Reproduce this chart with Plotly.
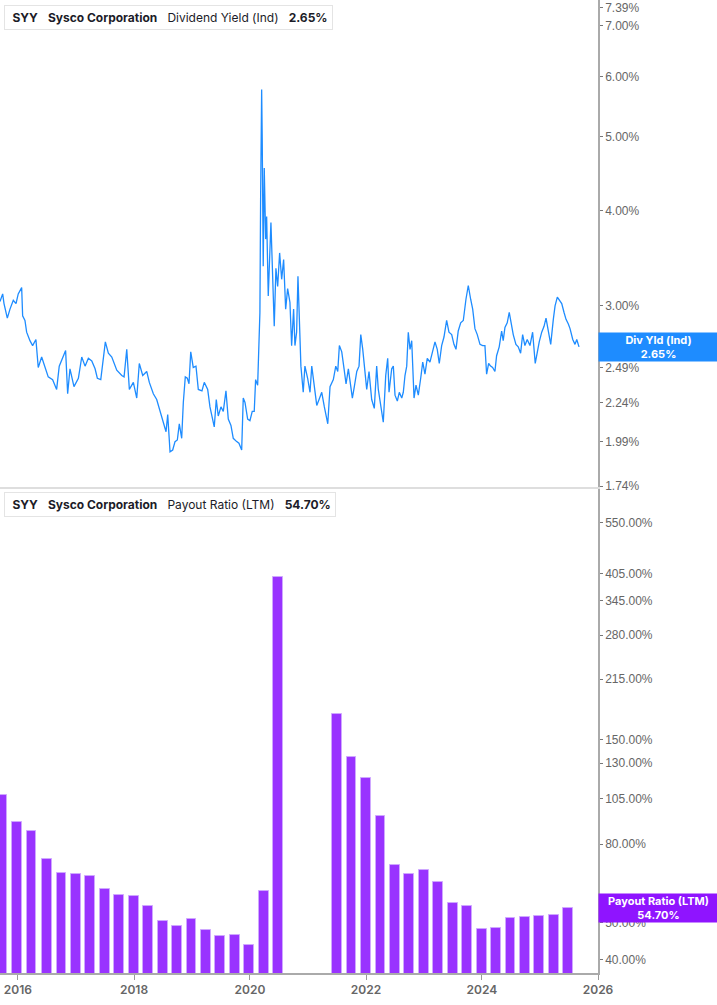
'''
Sysco (SYY) dividend yield and LTM payout ratio, two stacked log panels.
'''

import numpy as np
import pandas as pd
import plotly.graph_objects as go

# Dividend yield (Ind). Dates as decimal years.
yield_years = [
    2015.690, 2015.736, 2015.759, 2015.816, 2015.862, 2015.919, 2015.966, 2016.005,
    2016.064, 2016.081, 2016.121, 2016.150, 2016.207, 2016.253, 2016.310, 2016.350,
    2016.409, 2016.466, 2016.522, 2016.598, 2016.667, 2016.712, 2016.781, 2016.822,
    2016.857, 2016.897, 2016.966, 2017.040, 2017.098, 2017.155, 2017.212, 2017.271,
    2017.328, 2017.367, 2017.426, 2017.471, 2017.505, 2017.557, 2017.616, 2017.702,
    2017.788, 2017.828, 2017.874, 2017.919, 2017.988, 2018.047, 2018.091, 2018.150,
    2018.219, 2018.264, 2018.333, 2018.391, 2018.436, 2018.505, 2018.552, 2018.581,
    2018.621, 2018.667, 2018.707, 2018.747, 2018.781, 2018.822, 2018.850, 2018.884,
    2018.919, 2018.948, 2018.978, 2019.022, 2019.069, 2019.109, 2019.172, 2019.212,
    2019.271, 2019.310, 2019.350, 2019.384, 2019.419, 2019.453, 2019.500, 2019.540,
    2019.586, 2019.626, 2019.672, 2019.712, 2019.771, 2019.810, 2019.857, 2019.884,
    2019.914, 2019.960, 2020.000, 2020.040, 2020.074, 2020.098, 2020.133, 2020.155,
    2020.172, 2020.184, 2020.202, 2020.212, 2020.229, 2020.247, 2020.271, 2020.288,
    2020.316, 2020.362, 2020.391, 2020.419, 2020.448, 2020.478, 2020.512, 2020.547,
    2020.581, 2020.616, 2020.650, 2020.690, 2020.719, 2020.753, 2020.776, 2020.805,
    2020.828, 2020.850, 2020.879, 2020.919, 2020.948, 2020.995, 2021.034, 2021.064,
    2021.109, 2021.150, 2021.190, 2021.236, 2021.281, 2021.340, 2021.379, 2021.436,
    2021.478, 2021.512, 2021.540, 2021.581, 2021.621, 2021.655, 2021.695, 2021.736,
    2021.764, 2021.798, 2021.840, 2021.879, 2021.909, 2021.943, 2021.983, 2022.012,
    2022.052, 2022.098, 2022.143, 2022.184, 2022.212, 2022.253, 2022.298, 2022.340,
    2022.374, 2022.397, 2022.443, 2022.471, 2022.500, 2022.540, 2022.574, 2022.616,
    2022.643, 2022.672, 2022.702, 2022.729, 2022.759, 2022.788, 2022.828, 2022.862,
    2022.902, 2022.943, 2022.978, 2023.017, 2023.057, 2023.103, 2023.150, 2023.190,
    2023.229, 2023.264, 2023.305, 2023.345, 2023.391, 2023.431, 2023.478, 2023.517,
    2023.552, 2023.591, 2023.633, 2023.678, 2023.724, 2023.764, 2023.805, 2023.840,
    2023.879, 2023.919, 2023.966, 2024.012, 2024.052, 2024.081, 2024.116, 2024.150,
    2024.184, 2024.224, 2024.253, 2024.298, 2024.340, 2024.367, 2024.397, 2024.436,
    2024.471, 2024.512, 2024.540, 2024.586, 2024.626, 2024.667, 2024.702, 2024.741,
    2024.781, 2024.828, 2024.874, 2024.919, 2024.953, 2024.988, 2025.029, 2025.069,
    2025.103, 2025.143, 2025.184, 2025.229, 2025.259, 2025.298, 2025.333, 2025.374,
    2025.414, 2025.448, 2025.488, 2025.517, 2025.564, 2025.603, 2025.633, 2025.672,
]
yield_pct = [
    3.04, 3.11, 3.02, 2.89, 2.97, 3.05, 3.02, 3.11,
    3.17, 2.91, 2.87, 2.77, 2.70, 2.66, 2.71, 2.49,
    2.57, 2.50, 2.42, 2.40, 2.33, 2.50, 2.58, 2.62,
    2.30, 2.48, 2.35, 2.41, 2.57, 2.50, 2.56, 2.54,
    2.48, 2.41, 2.40, 2.56, 2.69, 2.60, 2.57, 2.47,
    2.43, 2.42, 2.63, 2.33, 2.38, 2.27, 2.52, 2.43,
    2.46, 2.38, 2.30, 2.26, 2.20, 2.11, 2.05, 2.16,
    1.93, 1.94, 1.99, 2.00, 2.10, 2.01, 2.24, 2.42,
    2.41, 2.37, 2.61, 2.49, 2.50, 2.33, 2.32, 2.38,
    2.33, 2.21, 2.14, 2.08, 2.26, 2.15, 2.21, 2.18,
    2.32, 2.13, 2.09, 2.01, 1.99, 1.98, 1.94, 2.27,
    2.24, 2.13, 2.12, 2.18, 2.18, 2.40, 2.36, 2.69,
    2.94, 4.14, 5.77, 4.96, 3.38, 4.55, 3.67, 3.93,
    3.09, 3.86, 3.38, 2.82, 3.36, 3.18, 3.52, 3.25,
    3.45, 2.97, 3.16, 3.03, 2.66, 2.97, 2.66, 2.77,
    3.28, 2.94, 2.50, 2.31, 2.50, 2.41, 2.31, 2.50,
    2.36, 2.22, 2.26, 2.31, 2.21, 2.10, 2.35, 2.40,
    2.50, 2.46, 2.66, 2.61, 2.48, 2.37, 2.48, 2.33,
    2.27, 2.35, 2.46, 2.50, 2.75, 2.63, 2.43, 2.33,
    2.46, 2.26, 2.20, 2.50, 2.33, 2.23, 2.11, 2.43,
    2.56, 2.31, 2.48, 2.50, 2.29, 2.25, 2.31, 2.27,
    2.31, 2.43, 2.50, 2.77, 2.63, 2.70, 2.27, 2.36,
    2.29, 2.41, 2.53, 2.44, 2.56, 2.53, 2.61, 2.69,
    2.63, 2.52, 2.66, 2.73, 2.87, 2.77, 2.75, 2.67,
    2.63, 2.78, 2.85, 2.87, 3.06, 3.19, 3.06, 2.97,
    2.80, 2.75, 2.67, 2.66, 2.66, 2.44, 2.52, 2.50,
    2.49, 2.46, 2.58, 2.65, 2.78, 2.70, 2.81, 2.85,
    2.94, 2.81, 2.75, 2.67, 2.65, 2.60, 2.75, 2.66,
    2.71, 2.66, 2.77, 2.52, 2.61, 2.69, 2.77, 2.82,
    2.89, 2.78, 2.67, 2.88, 3.00, 3.08, 3.05, 3.02,
    2.94, 2.88, 2.84, 2.80, 2.71, 2.67, 2.71, 2.65,
]

# Payout ratio (LTM), fiscal quarter ends
payout_dates = [
    '2015-09-26', '2015-12-26', '2016-03-26', '2016-07-02', '2016-10-01',
    '2016-12-31', '2017-04-01', '2017-07-01', '2017-09-30', '2017-12-30',
    '2018-03-31', '2018-06-30', '2018-09-29', '2018-12-29', '2019-03-30',
    '2019-06-29', '2019-09-28', '2019-12-28', '2020-03-28', '2020-06-27',
    '2021-07-03', '2021-10-02', '2022-01-01', '2022-04-02', '2022-07-02',
    '2022-10-01', '2022-12-31', '2023-04-01', '2023-07-01', '2023-09-30',
    '2023-12-30', '2024-03-30', '2024-06-29', '2024-09-28', '2024-12-28',
    '2025-03-29', '2025-06-28',
]
payout_pct = [
    107.5, 91.5, 86.8, 73.4, 67.2,
    67.1, 66.0, 61.1, 58.9, 58.6,
    55.3, 50.4, 49.0, 51.0, 48.0,
    46.3, 46.5, 43.8, 60.4, 397.0,
    174.3, 135.0, 119.2, 94.6, 70.6,
    67.0, 68.6, 63.7, 56.2, 55.2,
    48.1, 48.4, 51.4, 51.8, 52.0,
    52.4, 54.7,
]

yield_ticks = [1.74, 1.99, 2.24, 2.49, 3.00, 4.00, 5.00, 6.00, 7.00, 7.39]
payout_ticks = [40, 50, 55, 80, 105, 130, 150, 215, 280, 345, 405, 550]

last_yield = 2.65
last_payout = 54.70

BLUE = '#1e8cff'
PURPLE = '#9933ff'
PURPLE_LABEL = '#8f14ff'


def to_date(yf):
    y = int(yf)
    return pd.Timestamp(year=y, month=1, day=1) + pd.Timedelta(days=(yf - y) * 365.25)


def main():
    x_yield = [to_date(v) for v in yield_years]

    fig = go.Figure()
    fig.add_trace(go.Scatter(x=x_yield, y=yield_pct, mode='lines',
                             line=dict(color=BLUE, width=1.3),
                             xaxis='x2', yaxis='y2', showlegend=False))
    fig.add_trace(go.Bar(x=pd.to_datetime(payout_dates), y=payout_pct,
                         width=62 * 86400000,
                         marker=dict(color=PURPLE, line=dict(color='#cfa8ff', width=1)),
                         xaxis='x', yaxis='y', showlegend=False))

    tick_font = dict(family='Liberation Sans, Arial', size=12, color='#666')
    xrange = ['2015-09-10', '2026-01-01']

    fig.update_layout(
        width=717, height=1005,
        margin=dict(l=0, r=119, t=0, b=32),
        paper_bgcolor='white', plot_bgcolor='white',
        bargap=0,
        xaxis=dict(domain=[0, 1], anchor='y', type='date', range=xrange,
                   tickvals=[f'{y}-01-01' for y in range(2016, 2027, 2)],
                   ticktext=[str(y) for y in range(2016, 2027, 2)],
                   showgrid=False, zeroline=False,
                   showline=True, linecolor='#aaa', linewidth=2,
                   ticks='outside', ticklen=5, tickcolor='#999',
                   tickfont=dict(family='Inter', size=12, color='#666', weight=600)),
        yaxis=dict(domain=[0, 0.4974], anchor='x', type='log', side='right',
                   range=[np.log10(37.0), np.log10(672)],
                   tickvals=payout_ticks,
                   ticktext=[f'{v:.2f}%' for v in payout_ticks],
                   showgrid=False, zeroline=False,
                   showline=True, linecolor='#aaa', linewidth=1.5,
                   ticks='outside', ticklen=3, tickcolor='#777',
                   tickfont=tick_font),
        xaxis2=dict(domain=[0, 1], anchor='y2', type='date', range=xrange,
                    matches='x', showticklabels=False, showgrid=False,
                    zeroline=False, showline=True, linecolor='#dedede', linewidth=2,
                    ticks=''),
        yaxis2=dict(domain=[0.4995, 1], anchor='x2', type='log', side='right',
                    range=[np.log10(1.735), np.log10(7.56)],
                    tickvals=yield_ticks,
                    ticktext=[f'{v:.2f}%' for v in yield_ticks],
                    showgrid=False, zeroline=False,
                    showline=True, linecolor='#aaa', linewidth=1.5,
                    ticks='outside', ticklen=3, tickcolor='#777',
                    tickfont=tick_font),
    )

    sp = '\u00a0\u00a0\u00a0'
    title_font = dict(family='Inter', size=12, color='#1c1c28')
    plot_h = 973.0
    plot_w = 598.0
    boxes = [
        (5, BLUE, f'\u00a0<b>SYY</b>{sp}<b>Sysco Corporation</b>{sp}Dividend Yield (Ind){sp}<b>{last_yield:.2f}%</b>'),
        (492, PURPLE_LABEL, f'\u00a0<b>SYY</b>{sp}<b>Sysco Corporation</b>{sp}Payout Ratio (LTM){sp}<b>{last_payout:.2f}%</b>'),
    ]
    for top_px, color, text in boxes:
        fig.add_annotation(xref='paper', yref='paper', x=4 / plot_w, y=1 - top_px / plot_h,
                           xanchor='left', yanchor='top', text=text, showarrow=False,
                           font=title_font, bgcolor='white', bordercolor='#e4e4e4',
                           borderwidth=1, borderpad=4, align='left')
        fig.add_shape(type='rect', xref='paper', yref='paper',
                      x0=4 / plot_w, x1=7 / plot_w,
                      y0=1 - (top_px + 24) / plot_h, y1=1 - top_px / plot_h,
                      fillcolor=color, line=dict(width=0))

    # Last value labels on the right axis (they sit over the axis labels)
    fig.add_annotation(xref='paper', yref='y2', x=1, y=np.log10(last_yield),
                       xanchor='left', yanchor='middle', showarrow=False,
                       text=f'<b>Div Yld (Ind)</b><br><b>{last_yield:.2f}%</b>',
                       font=dict(family='Inter', size=11, color='white'),
                       bgcolor=BLUE, width=115, height=24, borderpad=2, align='center')
    fig.add_annotation(xref='paper', yref='y', x=1, y=np.log10(last_payout),
                       xanchor='left', yanchor='middle', showarrow=False,
                       text=f'<b>Payout Ratio (LTM)</b><br><b>{last_payout:.2f}%</b>',
                       font=dict(family='Inter', size=11, color='white'),
                       bgcolor=PURPLE_LABEL, width=115, height=24, borderpad=2, align='center')

    # page body has a default 8px margin; drop it so the figure sits at 0,0
    fig.write_html('out.html', config={'displayModeBar': False},
                   post_script="document.body.style.margin='0';")


if __name__ == '__main__':
    main()
